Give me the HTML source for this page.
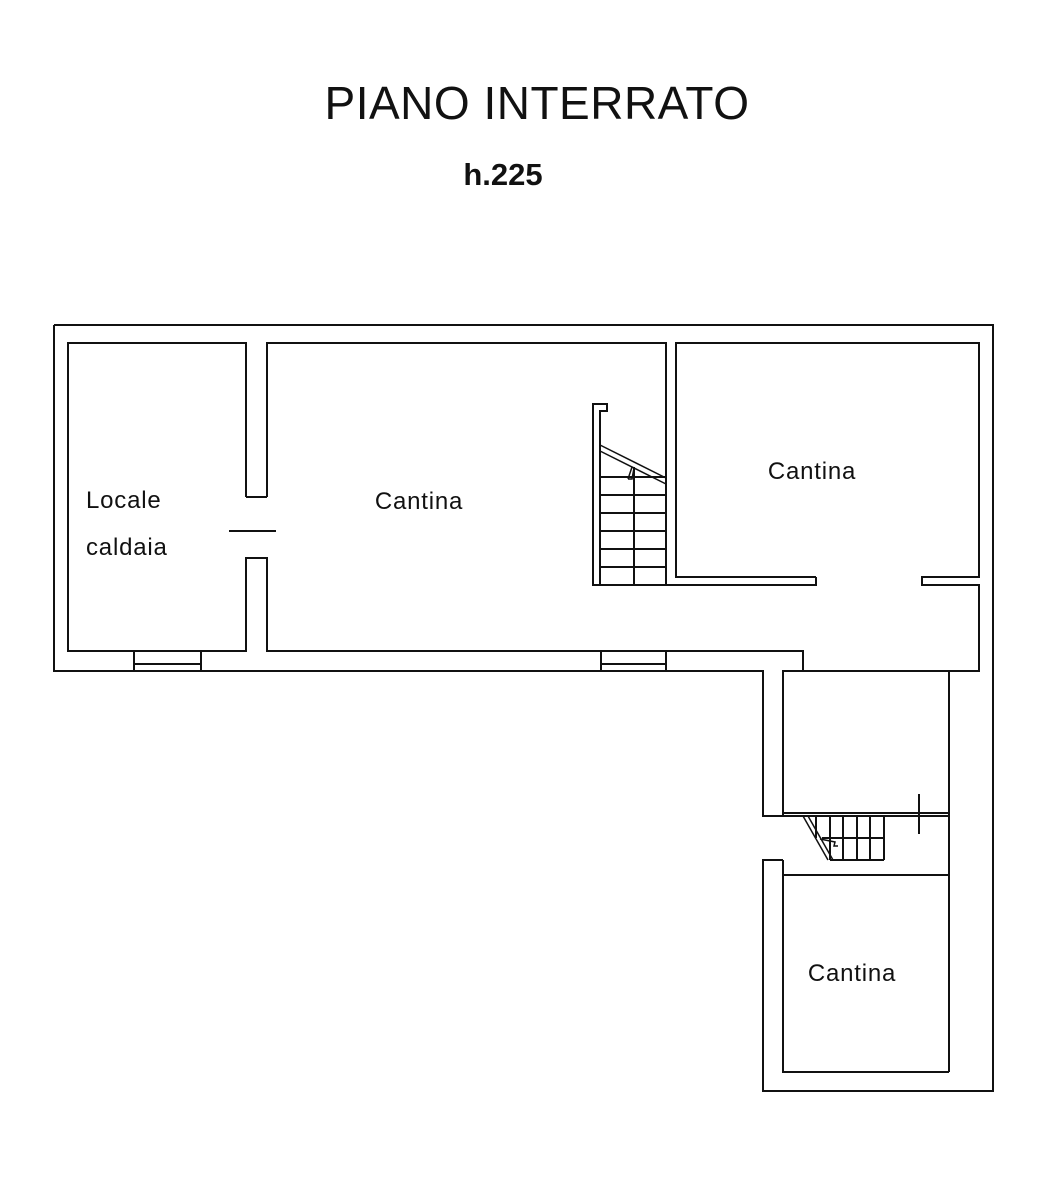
<!DOCTYPE html>
<html><head><meta charset="utf-8"><style>
html,body{margin:0;padding:0;background:#fff;}
svg{display:block;}
text{font-family:"Liberation Sans",Arial,sans-serif;fill:#111;}
</style></head><body>
<svg width="1043" height="1200" viewBox="0 0 1043 1200" xmlns="http://www.w3.org/2000/svg">
<g fill="none" stroke="#111" stroke-width="2">
<polyline points="54,325 993,325 993,1091 763,1091 763,860 783,860"/>
<polyline points="54,325 54,671 763,671 763,816 783,816"/>
<polyline points="246,497 246,343 68,343 68,651 246,651 246,558 267,558 267,651 803,651 803,671"/>
<line x1="246" y1="497" x2="267" y2="497"/>
<polyline points="267,497 267,343 666,343 666,585"/>
<line x1="229" y1="531" x2="276" y2="531"/>
<line x1="134" y1="651" x2="134" y2="671"/><line x1="201" y1="651" x2="201" y2="671"/><line x1="134" y1="664" x2="201" y2="664"/>
<line x1="601" y1="651" x2="601" y2="671"/><line x1="666" y1="651" x2="666" y2="671"/><line x1="601" y1="664" x2="666" y2="664"/>
<polyline points="816,577 676,577 676,343 979,343 979,577 922,577 922,585 979,585 979,671 783,671 783,816"/>
<polyline points="816,577 816,585 593,585 593,404 607,404 607,411 600,411 600,585"/>
<line x1="634" y1="467" x2="634" y2="585"/>
<line x1="600" y1="477" x2="666" y2="477"/>
<line x1="600" y1="495" x2="666" y2="495"/>
<line x1="600" y1="513" x2="666" y2="513"/>
<line x1="600" y1="531" x2="666" y2="531"/>
<line x1="600" y1="549" x2="666" y2="549"/>
<line x1="600" y1="567" x2="666" y2="567"/>
<line x1="600" y1="445" x2="666" y2="478" stroke-width="1.5"/>
<line x1="600" y1="451" x2="666" y2="484" stroke-width="1.5"/>
<polyline points="628,479 632,467 634,468 632,479 628,479" stroke-width="1.5"/>
<line x1="949" y1="671" x2="949" y2="1072"/>
<line x1="783" y1="813" x2="949" y2="813"/>
<line x1="783" y1="816" x2="949" y2="816"/>
<line x1="919" y1="794" x2="919" y2="834"/>
<line x1="783" y1="875" x2="949" y2="875"/>
<polyline points="783,860 783,1072 949,1072"/>
<line x1="830" y1="860" x2="884" y2="860"/>
<line x1="884" y1="816" x2="884" y2="860"/>
<line x1="816" y1="816" x2="816" y2="838"/>
<line x1="830" y1="816" x2="830" y2="860"/>
<line x1="843" y1="816" x2="843" y2="860"/>
<line x1="857" y1="816" x2="857" y2="860"/>
<line x1="870" y1="816" x2="870" y2="860"/>
<line x1="822" y1="838" x2="884" y2="838"/>
<line x1="803" y1="816" x2="828" y2="860" stroke-width="1.5"/>
<line x1="808" y1="816" x2="833" y2="860" stroke-width="1.5"/>
<polyline points="820,839 835,842 834,846 838,846" stroke-width="1.5"/>
</g>
<text x="537" y="119" font-size="46" text-anchor="middle" letter-spacing="0.5">PIANO INTERRATO</text>
<text x="503" y="185" font-size="31" font-weight="bold" text-anchor="middle">h.225</text>
<text x="419" y="509" font-size="24" text-anchor="middle" letter-spacing="0.8">Cantina</text>
<text x="812" y="479" font-size="24" text-anchor="middle" letter-spacing="0.8">Cantina</text>
<text x="852" y="981" font-size="24" text-anchor="middle" letter-spacing="0.8">Cantina</text>
<text x="86" y="508" font-size="24" letter-spacing="0.8">Locale</text>
<text x="86" y="555" font-size="24" letter-spacing="0.8">caldaia</text>
</svg>
</body></html>
